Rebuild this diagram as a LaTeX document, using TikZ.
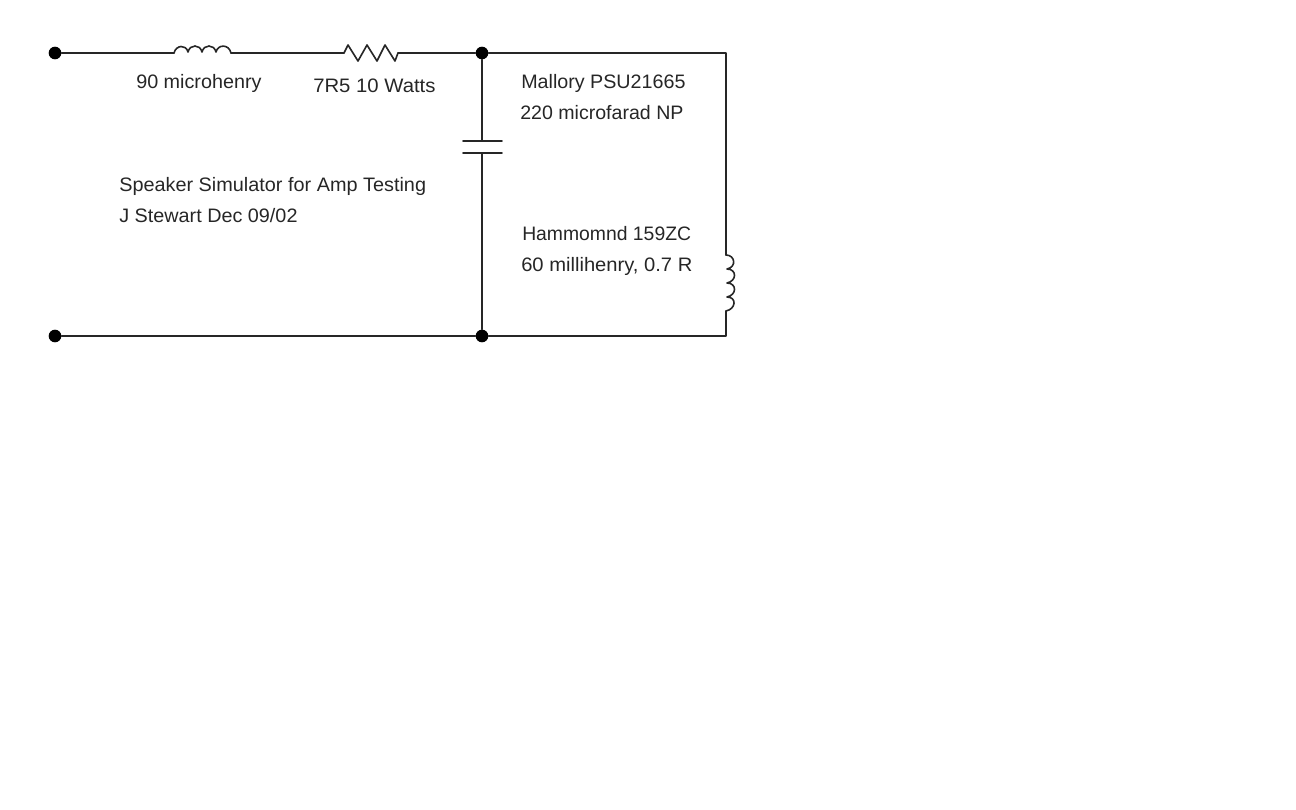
\documentclass[tikz,border=0pt]{standalone}
\usepackage{fontspec}
\setmainfont{Liberation Sans}
\tikzset{
  wire/.style={draw=black!85,line width=1.2pt,line cap=round,line join=round},
  terminal/.style={circle,fill=black,inner sep=0pt,minimum size=9.5pt},
  junction/.style={circle,fill=black,inner sep=0pt,minimum size=9.5pt},
  lbl/.style={anchor=base west,inner sep=0pt,text=black!85,transform shape,font=\fontsize{14.6}{16}\selectfont},
}
\begin{document}
\begin{tikzpicture}[x=0.75pt,y=-0.75pt]
\useasboundingbox (0,0) rectangle (1296,810);
\node[terminal] (tl) at (55,53) {};
\node[terminal] (bl) at (55,336) {};
\node[junction] (jt) at (482,53) {};
\node[junction] (jb) at (482,336) {};
\coordinate (tr) at (726,53);
\coordinate (br) at (726,336);
\coordinate (l1a) at (174,53);
\coordinate (l1b) at (231,53);
\coordinate (r1a) at (344,53);
\coordinate (r1b) at (398,53);
\coordinate (c1) at (482,141);
\coordinate (c2) at (482,153);
\coordinate (c1l) at (463,141);
\coordinate (c1r) at (502,141);
\coordinate (c2l) at (463,153);
\coordinate (c2r) at (502,153);
\coordinate (l2a) at (726,255);
\coordinate (l2b) at (726,311);
% wires
\draw[wire] (tl) -- (l1a);
\draw[wire] (l1b) -- (r1a);
\draw[wire] (r1b) -- (jt);
\draw[wire] (jt) -- (tr) -- (l2a);
\draw[wire] (l2b) -- (br) -- (jb);
\draw[wire] (bl) -- (jb);
\draw[wire] (jt) -- (c1);
\draw[wire] (c2) -- (jb);
\draw[wire] (c1l) -- (c1r);
\draw[wire] (c2l) -- (c2r);
% series inductor
\draw[wire] (l1a) .. controls (176,45) and (186,44) .. (188,52)
  .. controls (190,44) and (200,44) .. (202,52)
  .. controls (204,44) and (214,44) .. (216,52)
  .. controls (218,44) and (229,44) .. (l1b);
% resistor
\draw[wire] (r1a) -- (348,45) -- (358,61) -- (367,45) -- (377,61) -- (385,45) -- (395,61) -- (r1b);
% shunt inductor
\draw[wire] (l2a) .. controls (735,255) and (737,267) .. (727,269)
  .. controls (737,269) and (737,281) .. (727,283)
  .. controls (737,283) and (737,295) .. (727,297)
  .. controls (737,297) and (736,309) .. (l2b);
% labels
\node[lbl,xscale=1.016] (t1) at (136,88.5) {90 microhenry};
\node[lbl,xscale=1.043] (t2) at (313,92.5) {7R5 10 Watts};
\node[lbl,xscale=1.012] (t3) at (521,88) {Mallory PSU21665};
\node[lbl,xscale=1.006] (t4) at (520,119) {220 microfarad NP};
\node[lbl,xscale=1.02] (t5) at (119,191) {Speaker Simulator for Amp Testing};
\node[lbl,xscale=1.017] (t6) at (119,222) {J Stewart Dec 09/02};
\node[lbl,xscale=0.994] (t7) at (522,240.5) {Hammomnd 159ZC};
\node[lbl,xscale=1.036] (t8) at (521,271.5) {60 millihenry, 0.7 R};
\end{tikzpicture}
\end{document}
